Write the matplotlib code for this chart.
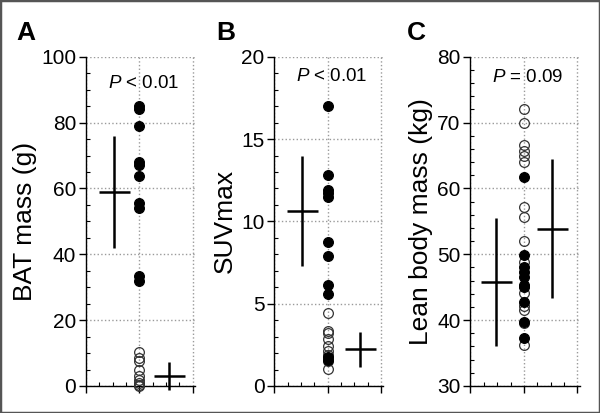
import matplotlib
matplotlib.use("Agg")
import matplotlib.pyplot as plt
from matplotlib.ticker import MultipleLocator
from matplotlib.patches import Rectangle

plt.rcParams['font.family'] = ['Liberation Sans', 'DejaVu Sans']
plt.rcParams['mathtext.fontset'] = 'custom'
plt.rcParams['mathtext.it'] = 'Liberation Sans:italic'
plt.rcParams['mathtext.rm'] = 'Liberation Sans'

# ---- data ----
panel_letters = ["A", "B", "C"]
y_labels = ["BAT mass (g)", "SUVmax", "Lean body mass (kg)"]
p_texts = ["< 0.01", "< 0.01", "= 0.09"]

a_filled = [85.1, 84.3, 79.0, 68.0, 67.2, 63.9, 55.5, 54.1, 33.3, 32.0]
a_open = [10.3, 8.5, 7.5, 4.9, 3.0, 1.8, 0.9, 0.3, 0.0]
a_mean = [58.8, 3.0]
a_sd = [17.0, 4.2]

b_filled = [17.0, 12.85, 11.9, 11.7, 11.5, 8.77, 7.88, 6.14, 5.6, 1.75, 1.6]
b_open = [4.42, 3.35, 3.2, 2.83, 2.46, 2.1, 1.86, 1.5, 1.05]
b_mean = [10.63, 2.22]
b_sd = [3.35, 1.05]

c_filled = [61.7, 49.9, 48.0, 47.3, 46.6, 45.4, 45.0, 42.7, 39.7, 37.3]
c_open = [72.05, 69.9, 66.6, 65.75, 65.0, 64.1, 57.2, 55.7, 52.0, 48.9,
          44.1, 42.1, 41.6, 39.5, 36.3]
c_mean = [45.8, 53.9]
c_sd = [9.7, 10.6]

filled_sets = [a_filled, b_filled, c_filled]
open_sets = [a_open, b_open, c_open]
means = [a_mean, b_mean, c_mean]
sds = [a_sd, b_sd, c_sd]

# ---- layout ----
ylims = [(0, 100), (0, 20), (30, 80)]
majors = [20, 5, 10]
minors = [5, 1, 2]
p_y = [92, 18.8, 76.9]
cross_x = [(0.53, 1.56), (0.52, 1.61), (0.48, 1.53)]
lefts = [0.143, 0.457, 0.784]
letter_x = [0.027, 0.36, 0.678]

fig = plt.figure(figsize=(6.0, 4.13), dpi=100)
fig.patches.append(Rectangle((0, 0), 1, 1, transform=fig.transFigure,
                             fill=False, edgecolor='#555555', linewidth=2.5))

for i in range(3):
    ax = fig.add_axes([lefts[i], 0.0654, 0.182, 0.797])
    ax.set_xlim(0, 2.04)
    ax.set_ylim(*ylims[i])
    for s in ['top', 'right']:
        ax.spines[s].set_visible(False)
    for s in ['left', 'bottom']:
        ax.spines[s].set_linewidth(1.0)
    ax.xaxis.set_major_locator(MultipleLocator(1))
    ax.xaxis.set_minor_locator(MultipleLocator(0.25))
    ax.yaxis.set_major_locator(MultipleLocator(majors[i]))
    ax.yaxis.set_minor_locator(MultipleLocator(minors[i]))
    ax.tick_params(axis='both', which='major', direction='out', length=5,
                   width=1, labelsize=15)
    ax.tick_params(axis='both', which='minor', direction='in', length=3,
                   width=0.8)
    ax.tick_params(axis='x', labelbottom=False)
    ax.tick_params(axis='y', pad=2)
    ax.grid(True, which='major', color='#9a9a9a', linestyle=':', linewidth=1.0)
    ax.set_axisbelow(True)
    ax.set_ylabel(y_labels[i], fontsize=19, labelpad=3)

    ax.plot([1] * len(open_sets[i]), open_sets[i], 'o', ms=7,
            mfc='none', mec='#333333', mew=0.9, clip_on=False, zorder=3)
    ax.plot([1] * len(filled_sets[i]), filled_sets[i], 'o', ms=7,
            mfc='black', mec='black', mew=0.9, clip_on=False, zorder=4)

    for j in range(2):
        x0 = cross_x[i][j]
        m = means[i][j]
        s = sds[i][j]
        ax.plot([x0, x0], [m - s, m + s], color='black', lw=1.8,
                clip_on=False, zorder=5, solid_capstyle='butt')
        ax.plot([x0 - 0.29, x0 + 0.29], [m, m], color='black', lw=1.8,
                clip_on=False, zorder=5, solid_capstyle='butt')

    ax.text(1.08, p_y[i], "$\\mathit{P}$ " + p_texts[i], ha='center',
            va='center', fontsize=13.5)
    fig.text(letter_x[i], 0.92, panel_letters[i], fontsize=19,
             fontweight='bold', ha='left', va='center')

fig.savefig("out.png", dpi=100)
